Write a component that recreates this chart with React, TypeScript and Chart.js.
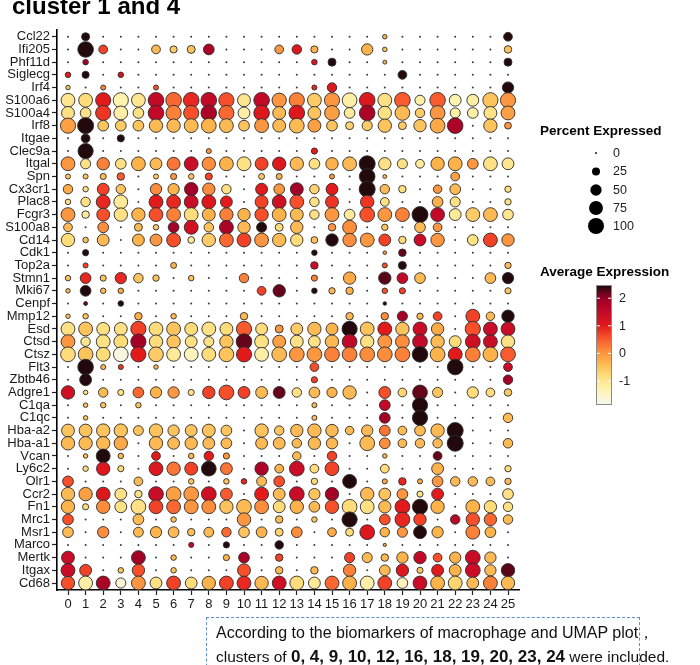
import React, { useEffect, useRef } from 'react';
import { Chart, registerables } from 'chart.js';

Chart.register(...registerables);

const genes = [
  'Ccl22', 'Ifi205', 'Phf11d', 'Siglecg', 'Irf4', 'S100a6', 'S100a4', 'Irf8', 'Itgae', 'Clec9a',
  'Itgal', 'Spn', 'Cx3cr1', 'Plac8', 'Fcgr3', 'S100a8', 'Cd14', 'Cdk1', 'Top2a', 'Stmn1',
  'Mki67', 'Cenpf', 'Mmp12', 'Esd', 'Ctsd', 'Ctsz', 'Flt3', 'Zbtb46', 'Adgre1', 'C1qa',
  'C1qc', 'Hba-a2', 'Hba-a1', 'Vcan', 'Ly6c2', 'Olr1', 'Ccr2', 'Fn1', 'Mrc1', 'Msr1',
  'Marco', 'Mertk', 'Itgax', 'Cd68',
];

const clusters = [
  '0', '1', '2', '3', '4', '5', '6', '7', '8', '9', '10', '11', '12',
  '13', '14', '15', '16', '17', '18', '19', '20', '21', '22', '23', '24', '25',
];

// Percent of cells expressing, one row per gene (same order as `genes`), one column per cluster
const percentExpressed: number[][] = [
  /* Ccl22 */ [0, 25, 0, 0, 0, 0, 0, 0, 0, 0, 0, 0, 0, 0, 0, 0, 0, 0, 8, 0, 0, 0, 0, 0, 0, 30],
  /* Ifi205 */ [0, 95, 30, 0, 0, 30, 20, 25, 45, 0, 0, 0, 30, 35, 20, 0, 0, 50, 8, 0, 0, 0, 0, 0, 0, 22],
  /* Phf11d */ [0, 12, 0, 0, 0, 0, 0, 0, 0, 0, 0, 0, 0, 0, 12, 25, 0, 0, 6, 0, 0, 0, 0, 0, 0, 25],
  /* Siglecg */ [12, 20, 0, 12, 0, 0, 0, 0, 0, 0, 0, 0, 0, 0, 0, 0, 0, 0, 0, 30, 0, 0, 0, 0, 0, 0],
  /* Irf4 */ [8, 0, 10, 0, 0, 10, 0, 0, 0, 0, 0, 0, 0, 0, 10, 35, 0, 0, 0, 0, 0, 0, 0, 0, 0, 50],
  /* S100a6 */ [75, 75, 90, 90, 75, 95, 95, 95, 95, 90, 65, 95, 80, 90, 75, 90, 85, 95, 75, 95, 40, 95, 55, 55, 90, 90],
  /* S100a4 */ [65, 45, 90, 75, 45, 95, 90, 90, 95, 90, 55, 95, 65, 95, 65, 85, 45, 95, 70, 85, 35, 85, 40, 45, 65, 75],
  /* Irf8 */ [90, 100, 45, 45, 45, 70, 70, 75, 85, 75, 45, 75, 65, 85, 65, 45, 25, 40, 70, 25, 60, 85, 95, 0, 70, 18],
  /* Itgae */ [0, 30, 0, 20, 0, 0, 0, 0, 0, 0, 0, 0, 0, 0, 0, 0, 0, 0, 0, 0, 0, 0, 0, 0, 0, 0],
  /* Clec9a */ [0, 90, 0, 0, 0, 0, 0, 0, 10, 0, 0, 0, 0, 0, 15, 0, 0, 0, 0, 0, 0, 0, 0, 0, 0, 0],
  /* Itgal */ [75, 40, 60, 45, 75, 55, 65, 75, 70, 75, 75, 65, 70, 70, 45, 60, 75, 100, 60, 40, 30, 70, 75, 45, 75, 55],
  /* Spn */ [10, 10, 15, 22, 0, 10, 15, 12, 20, 0, 0, 14, 14, 0, 0, 10, 0, 95, 6, 0, 0, 0, 30, 0, 0, 0],
  /* Cx3cr1 */ [35, 12, 55, 35, 0, 50, 50, 70, 60, 35, 0, 55, 45, 65, 35, 55, 0, 100, 35, 22, 0, 28, 45, 0, 0, 16],
  /* Plac8 */ [12, 35, 75, 75, 0, 75, 75, 75, 75, 55, 0, 65, 75, 75, 35, 65, 0, 70, 30, 0, 0, 45, 40, 0, 0, 16],
  /* Fcgr3 */ [75, 22, 65, 70, 70, 75, 75, 75, 65, 70, 60, 70, 75, 65, 35, 75, 45, 85, 75, 75, 100, 75, 55, 75, 75, 45],
  /* S100a8 */ [30, 0, 45, 0, 25, 12, 45, 75, 35, 75, 60, 40, 25, 60, 0, 22, 75, 0, 16, 0, 45, 30, 0, 0, 0, 0],
  /* Cd14 */ [70, 12, 55, 0, 55, 55, 75, 18, 70, 75, 75, 75, 70, 60, 18, 60, 70, 75, 55, 22, 55, 70, 0, 45, 75, 60],
  /* Cdk1 */ [0, 15, 0, 0, 0, 0, 0, 0, 0, 0, 0, 0, 0, 0, 12, 0, 0, 0, 5, 22, 0, 0, 0, 0, 0, 0],
  /* Top2a */ [0, 10, 0, 0, 0, 0, 14, 0, 0, 0, 0, 0, 0, 0, 22, 0, 0, 0, 10, 25, 0, 0, 0, 0, 0, 16],
  /* Stmn1 */ [12, 45, 15, 50, 35, 16, 0, 12, 0, 0, 35, 0, 0, 0, 15, 0, 60, 0, 60, 45, 45, 0, 0, 0, 45, 50],
  /* Mki67 */ [8, 45, 12, 12, 0, 0, 0, 0, 0, 0, 0, 30, 60, 0, 12, 16, 22, 0, 12, 15, 0, 0, 0, 0, 0, 15],
  /* Cenpf */ [0, 6, 0, 12, 0, 0, 0, 0, 0, 0, 0, 0, 0, 0, 0, 0, 0, 0, 5, 0, 0, 0, 0, 0, 0, 0],
  /* Mmp12 */ [8, 12, 0, 0, 22, 0, 12, 0, 0, 0, 22, 0, 0, 0, 0, 0, 22, 0, 22, 40, 16, 30, 0, 75, 28, 60],
  /* Esd */ [75, 75, 65, 65, 90, 75, 75, 65, 75, 65, 90, 55, 25, 55, 70, 55, 90, 75, 75, 70, 75, 60, 0, 90, 75, 75],
  /* Ctsd */ [75, 35, 75, 75, 90, 70, 70, 55, 40, 70, 95, 75, 65, 65, 55, 70, 85, 70, 75, 75, 85, 70, 55, 85, 75, 70],
  /* Ctsz */ [85, 85, 75, 85, 90, 85, 75, 75, 75, 85, 90, 75, 85, 85, 85, 85, 85, 85, 85, 85, 95, 85, 75, 85, 85, 85],
  /* Flt3 */ [0, 95, 10, 10, 0, 8, 0, 0, 0, 0, 0, 0, 0, 0, 30, 0, 0, 0, 0, 0, 0, 0, 95, 0, 0, 30],
  /* Zbtb46 */ [0, 55, 0, 0, 0, 0, 0, 0, 0, 0, 0, 0, 0, 0, 15, 0, 0, 0, 0, 0, 0, 0, 0, 0, 0, 35],
  /* Adgre1 */ [70, 8, 35, 15, 45, 50, 50, 15, 60, 85, 55, 55, 55, 35, 45, 40, 70, 0, 55, 30, 85, 40, 0, 50, 30, 22],
  /* C1qa */ [0, 8, 12, 0, 12, 0, 0, 0, 0, 0, 0, 0, 0, 0, 10, 0, 0, 0, 45, 0, 90, 0, 0, 0, 0, 0],
  /* C1qc */ [0, 8, 0, 0, 0, 0, 0, 0, 0, 0, 0, 0, 0, 0, 10, 0, 0, 0, 45, 0, 90, 0, 0, 0, 0, 35],
  /* Hba-a2 */ [65, 65, 70, 70, 38, 70, 50, 55, 65, 45, 0, 70, 35, 60, 70, 60, 28, 50, 45, 30, 45, 70, 100, 0, 0, 0],
  /* Hba-a1 */ [70, 70, 70, 70, 0, 70, 55, 60, 55, 45, 0, 55, 55, 35, 60, 50, 0, 85, 45, 30, 35, 35, 100, 0, 0, 35],
  /* Vcan */ [0, 8, 75, 12, 0, 30, 0, 12, 35, 15, 0, 0, 0, 28, 0, 35, 0, 0, 8, 0, 0, 30, 0, 0, 0, 0],
  /* Ly6c2 */ [0, 12, 70, 15, 0, 75, 70, 65, 85, 55, 0, 70, 30, 85, 30, 75, 0, 0, 30, 0, 0, 55, 0, 0, 0, 16],
  /* Olr1 */ [45, 0, 0, 0, 30, 0, 0, 12, 0, 12, 12, 38, 45, 0, 16, 0, 75, 0, 10, 22, 10, 45, 35, 35, 30, 16],
  /* Ccr2 */ [70, 70, 75, 55, 22, 85, 85, 85, 85, 55, 0, 75, 55, 85, 50, 70, 0, 70, 55, 45, 15, 55, 0, 0, 0, 45],
  /* Fn1 */ [70, 15, 70, 55, 85, 75, 75, 75, 75, 70, 85, 75, 55, 70, 45, 70, 85, 75, 60, 85, 90, 70, 0, 75, 60, 35],
  /* Mrc1 */ [45, 0, 0, 0, 45, 0, 12, 0, 0, 0, 70, 0, 22, 0, 12, 0, 90, 0, 45, 85, 60, 0, 35, 70, 60, 35],
  /* Msr1 */ [45, 0, 50, 0, 38, 50, 45, 22, 38, 35, 45, 45, 25, 45, 0, 30, 25, 85, 35, 40, 65, 50, 0, 75, 45, 0],
  /* Marco */ [0, 0, 0, 0, 0, 0, 0, 10, 0, 15, 0, 0, 28, 0, 0, 0, 0, 0, 4, 0, 0, 0, 0, 0, 0, 0],
  /* Mertk */ [65, 0, 0, 0, 75, 0, 12, 0, 0, 15, 45, 0, 22, 0, 0, 0, 40, 40, 22, 50, 60, 30, 50, 85, 50, 0],
  /* Itgax */ [75, 55, 0, 12, 60, 0, 12, 0, 0, 0, 65, 0, 22, 0, 22, 0, 60, 0, 45, 60, 15, 55, 55, 85, 50, 70],
  /* Cd68 */ [70, 75, 75, 40, 75, 55, 75, 55, 70, 75, 75, 70, 75, 75, 55, 75, 75, 75, 75, 45, 75, 75, 75, 55, 75, 70],
];

// Average (scaled) expression, same layout as percentExpressed
const averageExpression: number[][] = [
  /* Ccl22 */ [0, 2.45, 0, 0, 0, 0, 0, 0, 0, 0, 0, 0, 0, 0, 0, 0, 0, 0, -0.3, 0, 0, 0, 0, 0, 0, 2.45],
  /* Ifi205 */ [0, 2.45, 0.7, 0, 0, -0.4, -0.6, -0.5, 1.8, 0, 0, 0, 0, 1.1, -0.3, 0, 0, -0.3, -0.5, 0, 0, 0, 0, 0, 0, -0.5],
  /* Phf11d */ [0, 1.9, 0, 0, 0, 0, 0, 0, 0, 0, 0, 0, 0, 0, 1.1, 2.45, 0, 0, -0.3, 0, 0, 0, 0, 0, 0, 2.45],
  /* Siglecg */ [1.0, 2.45, 0, 1.2, 0, 0, 0, 0, 0, 0, 0, 0, 0, 0, 0, 0, 0, 0, 0, 2.45, 0, 0, 0, 0, 0, 0],
  /* Irf4 */ [-0.5, 0, 0.2, 0, 0, 0.6, 0, 0, 0, 0, 0, 0, 0, 0, 0.9, 1.1, 0, 0, 0, 0, 0, 0, 0, 0, 0, 2.45],
  /* S100a6 */ [-1.0, -0.8, 1.0, -1.3, -1.0, 1.5, 0.4, 0.9, 1.5, 0.6, -1.0, 1.5, 0.0, 0.2, -0.6, 0.0, -1.2, 1.1, -0.9, 0.5, -1.2, 0.5, -1.3, -1.2, -0.5, 0.0],
  /* S100a4 */ [-0.9, -0.9, 0.8, -1.2, -0.9, 1.5, 0.2, 0.6, 1.8, 0.4, -1.2, 1.1, -0.4, 1.1, -0.5, -0.1, -1.1, 1.8, -0.9, -0.4, -0.6, 0.0, -1.2, -1.2, -0.9, -0.1],
  /* Irf8 */ [-0.1, 2.45, -0.5, -0.6, -0.5, -0.4, -0.4, -0.4, -0.3, -0.4, -0.5, 0.0, -0.4, -0.4, -0.1, -0.5, -0.7, -0.6, -0.5, -0.6, -0.5, -0.2, 1.8, 0, -0.5, 0.0],
  /* Itgae */ [0, 2.45, 0, 2.45, 0, 0, 0, 0, 0, 0, 0, 0, 0, 0, 0, 0, 0, 0, 0, 0, 0, 0, 0, 0, 0, 0],
  /* Clec9a */ [0, 2.45, 0, 0, 0, 0, 0, 0, 0.0, 0, 0, 0, 0, 0, 1.0, 0, 0, 0, 0, 0, 0, 0, 0, 0, 0, 0],
  /* Itgal */ [0.0, -0.9, 0.2, -0.9, -0.3, -0.4, 0.3, 1.4, 0.1, -0.3, -0.9, 0.7, 1.1, -0.4, -0.9, -0.3, -0.4, 2.45, -0.9, -0.9, -1.1, -0.3, -0.3, 0.0, -0.9, -1.0],
  /* Spn */ [-0.5, -0.5, -0.4, 0.5, 0, -0.6, 0.0, -0.5, 0.7, 0, 0, -0.5, -0.3, 0, 0, 0.0, 0, 2.45, -0.4, 0, 0, 0, -0.1, 0, 0, 0],
  /* Cx3cr1 */ [-0.2, -0.9, 0.7, -0.5, 0, 0.1, -0.3, 1.9, 0.1, -0.9, 0, 1.0, 0.0, 1.9, -0.7, 1.0, 0, 2.45, -0.4, -0.9, 0, 0.0, -0.4, 0, 0, -0.9],
  /* Plac8 */ [-0.9, -0.9, 0.9, -1.1, 0, 1.0, 0.9, 1.4, 1.1, 1.0, 0, 0.7, 1.3, 0.6, -0.9, 0.8, 0, 0.8, -0.9, 0, 0, -0.3, -0.9, 0, 0, -0.9],
  /* Fcgr3 */ [0.0, -1.1, 0.6, -0.9, -0.3, 0.6, 0.2, -0.8, -0.3, 0.2, -0.3, 0.6, -0.3, -0.4, -0.9, 0.0, -1.1, 0.6, 0.0, 0.2, 2.45, 1.5, -1.1, -0.6, -0.4, -1.0],
  /* S100a8 */ [-0.4, 0, 0.1, 0, -0.4, -0.6, 1.9, 1.3, -0.5, 1.8, -0.4, 2.45, -0.8, -0.4, 0, 0.0, 0.1, 0, -0.5, 0, -0.4, 0.0, 0, 0, 0, 0],
  /* Cd14 */ [-0.8, -0.5, -0.4, 0, -0.3, 0.0, 0.6, -1.1, -0.6, 0.4, 0.7, 0.0, -0.4, -0.8, -0.5, 2.45, 0.1, 0.0, 0.7, -0.8, 1.4, 0.0, 0, -0.9, 0.7, 0.0],
  /* Cdk1 */ [0, 2.45, 0, 0, 0, 0, 0, 0, 0, 0, 0, 0, 0, 0, 2.45, 0, 0, 0, 0.0, 2.2, 0, 0, 0, 0, 0, 0],
  /* Top2a */ [0, 0.7, 0, 0, 0, 0, -0.3, 0, 0, 0, 0, 0, 0, 0, 1.4, 0, 0, 0, 0.6, 2.45, 0, 0, 0, 0, 0, -0.4],
  /* Stmn1 */ [-0.5, 0.9, -0.5, 0.9, -0.5, -0.5, 0, -0.5, 0, 0, 0.2, 0, 0, 0, 0.2, 0, -0.2, 0, 2.25, 1.5, -0.4, 0, 0, 0, -0.4, 2.45],
  /* Mki67 */ [-0.4, 2.45, -0.4, -0.2, 0, 0, 0, 0, 0, 0, 0, 0.7, 2.2, 0, 2.45, -0.4, -0.3, 0, 0.6, 0.7, 0, 0, 0, 0, 0, -0.5],
  /* Cenpf */ [0, 2.2, 0, 2.45, 0, 0, 0, 0, 0, 0, 0, 0, 0, 0, 0, 0, 0, 0, 2.45, 0, 0, 0, 0, 0, 0, 0],
  /* Mmp12 */ [-0.5, -0.5, 0, 0, -0.3, 0, -0.4, 0, 0, 0, -0.4, 0, 0, 0, 0, 0, -0.4, 0, 0.1, 1.9, -0.4, 0.7, 0, 0.7, -0.4, 2.45],
  /* Esd */ [-0.9, -0.5, -0.9, -0.9, 0.7, -0.8, -0.5, -0.8, -0.9, -0.8, 0.5, -0.8, 0.0, -0.6, -0.4, -0.3, 2.45, -0.5, 1.0, -0.5, 1.4, -0.2, 0, 0.6, 1.4, 1.4],
  /* Ctsd */ [0.0, -1.0, -0.9, -0.8, 1.9, -0.8, -0.5, -0.9, -0.9, -0.5, 2.2, -0.9, -0.1, -0.9, -0.9, -0.4, 1.5, -0.9, 0.0, 0.1, 1.5, -0.4, -0.8, 1.3, 1.4, -0.9],
  /* Ctsz */ [-0.8, -0.5, -0.8, -1.7, 1.0, -0.6, -1.1, -1.4, -0.8, -0.5, 1.0, -1.2, -0.4, 0.0, 0.0, 0.2, 0.2, 0.1, 0.1, 0.2, 2.45, -0.3, 1.0, 0.2, -0.3, 0.5],
  /* Flt3 */ [0, 2.45, -0.4, 0.8, 0, -0.4, 0, 0, 0, 0, 0, 0, 0, 0, 0.6, 0, 0, 0, 0, 0, 0, 0, 2.45, 0, 0, 1.4],
  /* Zbtb46 */ [0, 2.45, 0, 0, 0, 0, 0, 0, 0, 0, 0, 0, 0, 0, 0.7, 0, 0, 0, 0, 0, 0, 0, 0, 0, 0, 1.9],
  /* Adgre1 */ [1.3, -0.9, -0.4, -0.9, 0.4, -0.3, 0.0, -0.9, 0.7, 0.6, 0.7, -0.4, 2.2, -0.9, -0.4, -0.3, -0.4, 0, 0.6, -0.7, 2.2, -0.5, 0, -0.8, -0.8, -0.6],
  /* C1qa */ [0, -0.5, -0.5, 0, -0.5, 0, 0, 0, 0, 0, 0, 0, 0, 0, -0.4, 0, 0, 0, 1.5, 0, 2.45, 0, 0, 0, 0, 0],
  /* C1qc */ [0, -0.5, 0, 0, 0, 0, 0, 0, 0, 0, 0, 0, 0, 0, -0.4, 0, 0, 0, 1.9, 0, 2.45, 0, 0, 0, 0, -0.4],
  /* Hba-a2 */ [-0.5, -0.5, -0.5, -0.5, -0.5, -0.5, -0.5, -0.5, -0.5, -0.5, 0, -0.5, -0.5, -0.4, -0.4, -0.4, -0.4, -0.4, 0.3, -0.4, -0.4, -0.4, 2.45, 0, 0, 0],
  /* Hba-a1 */ [-0.4, -0.4, -0.4, -0.2, 0, -0.4, -0.4, -0.4, -0.4, -0.4, 0, -0.4, -0.4, -0.4, -0.4, -0.4, 0, -0.4, 0.1, -0.4, -0.4, -0.4, 2.45, 0, 0, -0.4],
  /* Vcan */ [0, -0.4, 2.45, -0.4, 0, 1.0, 0, -0.4, 1.0, 0.0, 0, 0, 0, -0.4, 0, 0.7, 0, 0, -0.4, 0, 0, 2.2, 0, 0, 0, 0],
  /* Ly6c2 */ [0, -0.8, 1.1, -0.8, 0, 1.1, 0.3, 0.7, 2.45, 0.3, 0, 1.8, -0.3, 1.4, -0.8, 0.7, 0, 0, -0.8, 0, 0, -0.3, 0, 0, 0, -0.8],
  /* Olr1 */ [0.6, 0, 0, 0, -0.4, 0, 0, -0.5, 0, -0.5, 0.9, -0.4, 0.6, 0, -0.8, 0, 2.45, 0, -0.2, 0.9, -0.2, 0.0, -0.4, -0.4, -0.4, -0.4],
  /* Ccr2 */ [-0.4, -0.1, 1.1, -0.9, -0.9, 1.4, -0.1, 0.0, 1.3, 0.5, 0, 1.0, -0.4, 1.4, -0.5, 1.9, 0, -0.4, -0.5, 0.0, -0.9, 1.0, 0, 0, 0, -0.9],
  /* Fn1 */ [-0.3, -0.8, 0.1, -0.9, -0.9, 0.7, 0.4, 0.0, 0.1, -0.5, -0.4, 0.1, -0.8, -0.3, -0.4, 0.6, -0.8, -0.9, -0.4, 1.0, 2.45, -0.3, 0, -0.3, -0.8, -0.9],
  /* Mrc1 */ [0.6, 0, 0, 0, -0.4, 0, -0.5, 0, 0, 0, 0.0, 0, -0.4, 0, -0.5, 0, 2.45, 0, 0.6, 0.9, 0.7, 0, 1.6, 0.6, 0.4, -0.4],
  /* Msr1 */ [-0.4, 0, 0.1, 0, -0.4, -0.3, -0.4, -0.5, -0.4, 0.4, -0.5, -0.3, -0.7, 0.1, 0, -0.2, -0.8, 1.1, -0.3, 0.0, 2.45, -0.3, 0, 0.2, -0.3, 0],
  /* Marco */ [0, 0, 0, 0, 0, 0, 0, 1.5, 0, 2.45, 0, 0, 2.45, 0, 0, 0, 0, 0, -0.1, 0, 0, 0, 0, 0, 0, 0],
  /* Mertk */ [1.4, 0, 0, 0, 1.9, 0, -0.4, 0, 0, -0.3, 1.8, 0, 0.7, 0, 0, 0, 0.7, -0.4, -0.4, -0.3, 1.5, 0.6, -0.3, 1.4, -0.4, 0],
  /* Itgax */ [1.4, 0.7, 0, -0.5, 0.6, 0, -0.5, 0, 0, 0, 0.6, 0, -0.4, 0, -0.4, 0, 0.2, 0, -0.4, 1.1, -0.5, 1.0, -0.3, 1.4, -0.4, 2.25],
  /* Cd68 */ [0.6, -1.2, 1.8, -1.6, 0.0, -0.9, 0.7, -0.8, -0.3, 0.7, 0.9, -0.4, 1.3, -0.8, -1.1, 0.4, -0.3, -1.2, 0.7, -1.4, 1.4, -0.3, -0.7, -0.4, 0.2, -0.4],
];

const legendPercents = [0, 25, 50, 75, 100];
const colorbarTicks = [-1, 0, 1, 2];
const colorbarRange = [-1.87, 2.48];

const FONT = '"Liberation Sans", Arial, sans-serif';

const COLOR_STOPS: [number, number[]][] = [
  [-1.87, [247, 247, 240]],
  [-1.3, [255, 243, 176]],
  [-0.8, [254, 220, 122]],
  [-0.3, [253, 178, 74]],
  [0.1, [252, 141, 60]],
  [0.55, [248, 86, 44]],
  [1.0, [227, 26, 28]],
  [1.5, [194, 10, 40]],
  [2.0, [155, 0, 38]],
  [2.48, [26, 10, 10]],
];

function colorFor(v: number): string {
  if (v <= COLOR_STOPS[0][0]) return `rgb(${COLOR_STOPS[0][1].join(',')})`;
  for (let i = 1; i < COLOR_STOPS.length; i++) {
    const [v1, c1] = COLOR_STOPS[i];
    const [v0, c0] = COLOR_STOPS[i - 1];
    if (v <= v1) {
      const t = (v - v0) / (v1 - v0);
      const c = c0.map((a, k) => Math.round(a + (c1[k] - a) * t));
      return `rgb(${c.join(',')})`;
    }
  }
  return `rgb(${COLOR_STOPS[COLOR_STOPS.length - 1][1].join(',')})`;
}

function radiusFor(p: number): number {
  if (p <= 0) return 1.0;
  return Math.max(1.5, 8 * Math.sqrt(p / 100));
}

const legendPlugin = {
  id: 'dotLegend',
  afterDraw(chart: any) {
    const ctx = chart.ctx as CanvasRenderingContext2D;
    ctx.save();
    // Title (cut off at top)
    ctx.fillStyle = '#000';
    ctx.font = `bold 24px ${FONT}`;
    ctx.textAlign = 'left';
    ctx.textBaseline = 'alphabetic';
    ctx.fillText('cluster 1 and 4', 12, 13.5);

    // Percent Expressed
    ctx.font = `bold 13.5px ${FONT}`;
    ctx.textBaseline = 'middle';
    ctx.fillStyle = '#000';
    ctx.fillText('Percent Expressed', 540, 131);
    const ys = [153, 171.5, 190, 208, 226];
    legendPercents.forEach((p, i) => {
      ctx.beginPath();
      ctx.arc(596, ys[i], p === 0 ? 0.9 : radiusFor(p), 0, Math.PI * 2);
      ctx.fillStyle = '#000';
      ctx.fill();
      ctx.font = `12.5px ${FONT}`;
      ctx.fillStyle = '#222';
      ctx.fillText(String(p), 613, ys[i] + 0.5);
    });

    // Average Expression
    ctx.font = `bold 13.5px ${FONT}`;
    ctx.fillStyle = '#000';
    ctx.fillText('Average Expression', 540, 272);
    const bx = 596, bw = 16, top = 285, bottom = 405;
    const [lo, hi] = colorbarRange;
    for (let y = top; y < bottom; y++) {
      const v = hi - ((y + 0.5 - top) / (bottom - top)) * (hi - lo);
      ctx.fillStyle = colorFor(v);
      ctx.fillRect(bx, y, bw, 1);
    }
    ctx.strokeStyle = '#8a8a8a';
    ctx.lineWidth = 1;
    ctx.strokeRect(bx + 0.5, top + 0.5, bw - 1, bottom - top - 1);
    colorbarTicks.forEach((t) => {
      const y = top + ((hi - t) / (hi - lo)) * (bottom - top);
      ctx.strokeStyle = '#fff';
      ctx.lineWidth = 1;
      ctx.beginPath();
      ctx.moveTo(bx + 1, y);
      ctx.lineTo(bx + 4, y);
      ctx.moveTo(bx + bw - 4, y);
      ctx.lineTo(bx + bw - 1, y);
      ctx.stroke();
      ctx.font = `12.5px ${FONT}`;
      ctx.fillStyle = '#222';
      ctx.fillText(String(t), 619, y + 0.5);
    });
    ctx.restore();
  },
};

export default function App() {
  const canvasRef = useRef<HTMLCanvasElement | null>(null);

  useEffect(() => {
    if (!canvasRef.current) return;
    const points: any[] = [];
    genes.forEach((g, gi) => {
      clusters.forEach((c, ci) => {
        points.push({ x: ci, y: gi, p: percentExpressed[gi][ci], e: averageExpression[gi][ci] });
      });
    });

    const chart = new Chart(canvasRef.current, {
      type: 'scatter',
      data: {
        datasets: [
          {
            data: points,
            pointRadius: (ctx: any) => radiusFor(ctx.raw ? ctx.raw.p : 0),
            pointHoverRadius: (ctx: any) => radiusFor(ctx.raw ? ctx.raw.p : 0),
            backgroundColor: (ctx: any) => (ctx.raw && ctx.raw.p > 0 ? colorFor(ctx.raw.e) : '#3a3a3a'),
            borderColor: '#2b2b2b',
            borderWidth: (ctx: any) => (ctx.raw && ctx.raw.p > 0 ? 0.9 : 0),
          } as any,
        ],
      },
      options: {
        responsive: false,
        animation: false,
        events: [],
        layout: { padding: { left: 0, top: 30, right: 181, bottom: 55 } },
        plugins: { legend: { display: false }, tooltip: { enabled: false } },
        scales: {
          x: {
            type: 'linear',
            min: -0.625,
            max: 25.625,
            afterBuildTicks: (s: any) => {
              s.ticks = clusters.map((_, i) => ({ value: i }));
            },
            afterFit: (s: any) => {
              s.height = 20;
            },
            ticks: {
              callback: (v: any) => clusters[v as number],
              font: { family: FONT, size: 13 },
              color: '#1a1a1a',
              padding: 2,
              autoSkip: false,
              maxRotation: 0,
            },
            grid: { display: true, drawOnChartArea: false, drawTicks: true, tickLength: 5, tickColor: '#222', tickWidth: 1.2 },
            border: { display: true, color: '#000', width: 1.6 },
          },
          y: {
            type: 'linear',
            reverse: true,
            min: -0.53,
            max: 43.55,
            afterBuildTicks: (s: any) => {
              s.ticks = genes.map((_, i) => ({ value: i }));
            },
            afterFit: (s: any) => {
              s.width = 57;
            },
            ticks: {
              callback: (v: any) => genes[v as number],
              font: { family: FONT, size: 13 },
              color: '#1a1a1a',
              padding: 2,
              autoSkip: false,
            },
            grid: { display: true, drawOnChartArea: false, drawTicks: true, tickLength: 5, tickColor: '#222', tickWidth: 1.2 },
            border: { display: true, color: '#000', width: 1.6 },
          },
        },
      } as any,
      plugins: [legendPlugin],
    });
    return () => chart.destroy();
  }, []);

  return (
    <div style={{ position: 'absolute', left: 0, top: 0, width: 700, height: 665, overflow: 'hidden', background: '#fff' }}>
      <canvas ref={canvasRef} width={700} height={665} style={{ width: 700, height: 665, display: 'block' }} />
      <div
        style={{
          position: 'absolute',
          left: 206,
          top: 617,
          width: 434,
          height: 60,
          border: '1px dashed #5b8bd9',
          boxSizing: 'border-box',
        }}
      />
      <div
        style={{
          position: 'absolute',
          left: 216,
          top: 621,
          fontFamily: FONT,
          fontSize: 16,
          lineHeight: '24px',
          color: '#111',
          whiteSpace: 'nowrap',
        }}
      >
        <div>According to the biomarkers of macrophage and UMAP plot，</div>
        <div style={{ fontSize: 15.5 }}>
          clusters of <b style={{ fontSize: 17 }}>0, 4, 9, 10, 12, 16, 18, 19, 20, 23, 24</b> were included.
        </div>
      </div>
    </div>
  );
}
